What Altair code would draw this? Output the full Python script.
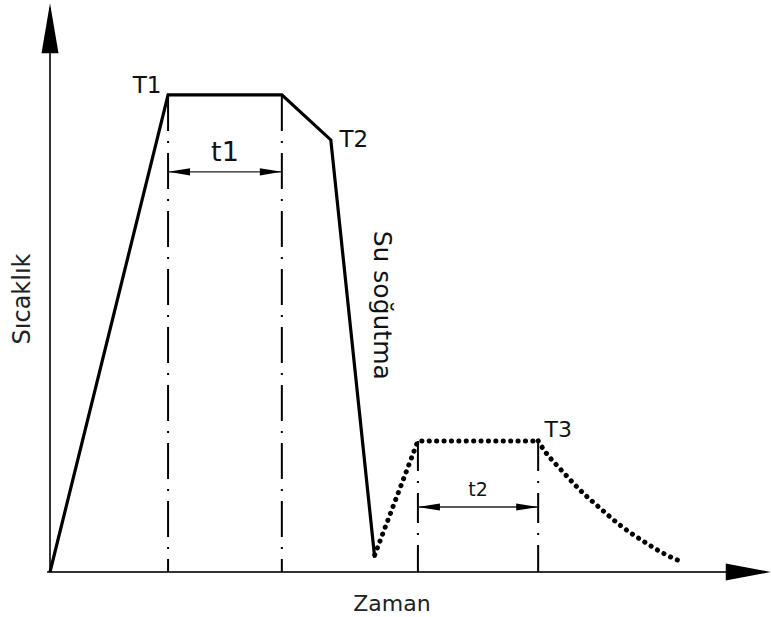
import altair as alt
import pandas as pd

# Heat-treatment cycle, schematic units (time 0-100, temperature 0-100)
heat_time = [0.0, 16.4, 32.2, 39.0, 45.1]
heat_temp = [0.0, 83.7, 83.7, 75.8, 2.5]

# Reheat and hold (dotted)
temper_time = [45.1, 51.1, 67.8]
temper_temp = [3.0, 23.0, 23.0]

# Slow cooling after the second hold (dotted)
cool_time = [67.8, 68.5, 71.0, 73.6, 76.4, 79.3, 82.4, 85.6, 87.9]
cool_temp = [23.0, 21.6, 17.9, 14.4, 11.2, 8.1, 5.4, 3.0, 1.7]

point_labels = ["T1", "T2", "T3"]
hold_labels = ["t1", "t2"]
hold_levels = [70.2, 11.4]
quench_label = "Su soğutma"
quench_pos = [46.1, 46.8]
x_title = "Zaman"
x_title_pos = [47.5, -5.6]
y_title = "Sıcaklık"
y_title_pos = [-3.75, 47.9]

FONT = "DejaVu Sans"
XS = alt.Scale(domain=[0, 100], nice=False, zero=False)
YS = alt.Scale(domain=[0, 100], nice=False, zero=False)


def enc_xy(x="x", y="y"):
    return dict(
        x=alt.X(x, type="quantitative", scale=XS, axis=None),
        y=alt.Y(y, type="quantitative", scale=YS, axis=None),
    )


# axis lines with arrowheads
axes_df = pd.DataFrame({"x": [0.0, -0.4], "x2": [0.0, 94.0], "y": [0.0, 0.0], "y2": [99.0, 0.0]})
axes = alt.Chart(axes_df).mark_rule(color="#333333", strokeWidth=2).encode(
    **enc_xy(), x2="x2:Q", y2="y2:Q"
)
up_head = alt.Chart(pd.DataFrame({"x": [0.0], "y": [99.8]})).mark_point(
    shape="M0,0L-8.5,50L8.5,50Z", size=4, filled=True, color="black", opacity=1
).encode(**enc_xy())
right_head = alt.Chart(pd.DataFrame({"x": [100.1], "y": [0.0]})).mark_point(
    shape="M0,0L-45,-8.5L-45,8.5Z", size=4, filled=True, color="black", opacity=1
).encode(**enc_xy())

# dash-dot guides under the two holds
guide1 = alt.Chart(pd.DataFrame({
    "x": [heat_time[1], heat_time[2]], "y": [heat_temp[1], heat_temp[2]], "y2": [0.0, 0.0]
})).mark_rule(color="black", strokeWidth=2, strokeDash=[36, 10, 2, 10]).encode(**enc_xy(), y2="y2:Q")
guide2 = alt.Chart(pd.DataFrame({
    "x": [temper_time[1], temper_time[2]], "y": [temper_temp[1], temper_temp[2]], "y2": [0.0, 0.0]
})).mark_rule(color="black", strokeWidth=2, strokeDash=[30, 10, 2, 10]).encode(**enc_xy(), y2="y2:Q")

# main cycle: heat, hold, quench
heat_df = pd.DataFrame({"x": heat_time, "y": heat_temp, "o": range(len(heat_time))})
heat = alt.Chart(heat_df).mark_line(
    color="black", strokeWidth=3.2, strokeJoin="miter"
).encode(**enc_xy(), order="o:Q")

dots = dict(color="black", strokeWidth=5, strokeCap="round", strokeDash=[0.1, 7.3])
temper_df = pd.DataFrame({"x": temper_time, "y": temper_temp, "o": range(len(temper_time))})
temper = alt.Chart(temper_df).mark_line(**dots).encode(**enc_xy(), order="o:Q")
cool_df = pd.DataFrame({"x": cool_time, "y": cool_temp, "o": range(len(cool_time))})
cool = alt.Chart(cool_df).mark_line(interpolate="monotone", **dots).encode(**enc_xy(), order="o:Q")

# dimension lines for the hold times
holds = [
    (heat_time[1], heat_time[2], hold_levels[0]),
    (temper_time[1], temper_time[2], hold_levels[1]),
]
dim_layers = []
for (a, b, lvl), lab, fs, lift in zip(holds, hold_labels, [27, 19], [-19, -17]):
    d = pd.DataFrame({"x": [a], "x2": [b], "y": [lvl], "mid": [(a + b) / 2]})
    dim_layers.append(alt.Chart(d).mark_rule(color="#222222", strokeWidth=1.3).encode(**enc_xy(), x2="x2:Q"))
    dim_layers.append(alt.Chart(d).mark_point(
        shape="M0,0L22,-3.6L22,3.6Z", size=4, filled=True, color="black", opacity=1
    ).encode(**enc_xy()))
    dim_layers.append(alt.Chart(d).mark_point(
        shape="M0,0L-22,-3.6L-22,3.6Z", size=4, filled=True, color="black", opacity=1
    ).encode(**enc_xy(x="x2")))
    dim_layers.append(alt.Chart(d).mark_text(
        text=lab, font=FONT, fontSize=fs, color="#111111", dy=lift, baseline="middle", align="center"
    ).encode(**enc_xy(x="mid")))

# temperature labels at the corners of the cycle
label_anchor = [
    (heat_time[1], heat_temp[1], -21, -9, 23),
    (heat_time[3], heat_temp[3], 23, 0, 23),
    (temper_time[2], temper_temp[2], 20, -11, 22),
]
point_layers = []
for lab, (x, y, dx, dy, fs) in zip(point_labels, label_anchor):
    point_layers.append(alt.Chart(pd.DataFrame({"x": [x], "y": [y]})).mark_text(
        text=lab, font=FONT, fontSize=fs, color="#111111", dx=dx, dy=dy,
        baseline="middle", align="center"
    ).encode(**enc_xy()))

quench = alt.Chart(pd.DataFrame({"x": [quench_pos[0]], "y": [quench_pos[1]]})).mark_text(
    text=quench_label, font=FONT, fontSize=25, color="#111111", angle=90,
    baseline="middle", align="center"
).encode(**enc_xy())
xt = alt.Chart(pd.DataFrame({"x": [x_title_pos[0]], "y": [x_title_pos[1]]})).mark_text(
    text=x_title, font=FONT, fontSize=22, color="#222222", baseline="middle", align="center"
).encode(**enc_xy())
yt = alt.Chart(pd.DataFrame({"x": [y_title_pos[0]], "y": [y_title_pos[1]]})).mark_text(
    text=y_title, font=FONT, fontSize=24, color="#222222", angle=270,
    baseline="middle", align="center"
).encode(**enc_xy())

chart = alt.layer(
    axes, up_head, right_head, guide1, guide2, heat, temper, cool,
    *dim_layers, *point_layers, quench, xt, yt
).properties(
    width=720, height=570,
    padding={"left": 50, "top": 2, "right": 1, "bottom": 45},
    autosize=alt.AutoSizeParams(type="none"),
    background="white",
).configure_view(stroke=None)

chart.save("out.html", embed_options={"renderer": "svg", "actions": False})
